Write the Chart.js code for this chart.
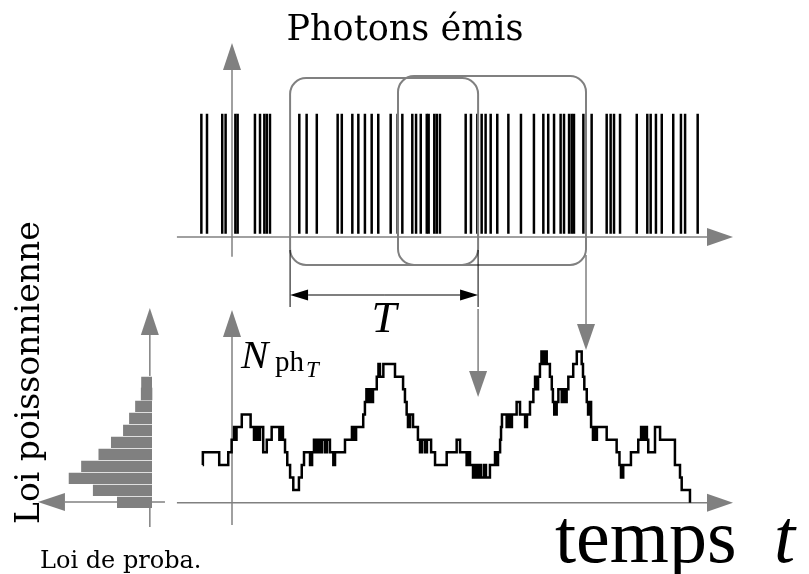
<!DOCTYPE html>
<html>
<head>
<meta charset="utf-8">
<script src="https://cdn.jsdelivr.net/npm/chart.js@4.4.1/dist/chart.umd.min.js"></script>
<style>
  html, body { margin: 0; padding: 0; background: #fff; }
  #wrap { width: 809px; height: 574px; }
</style>
</head>
<body>
<div id="wrap"><canvas id="photons" width="809" height="574"></canvas></div>
<script>
// window length (time units)
const T = 10

// arrival times of the emitted photons
const photonTimes = [-1.63, -1.33, -0.52, -0.34, 0.18, 0.30, 1.22, 1.49, 1.72, 1.85, 2.02,
    3.58, 3.97, 4.51, 5.62, 5.84, 6.40, 6.72, 7.07, 7.43, 7.78, 8.44, 8.81, 9.06, 9.59, 9.79,
    10.04, 10.36, 10.46, 10.76, 10.89, 11.06, 12.43, 12.71, 13.05, 13.28, 13.49, 13.76, 14.11,
    14.70, 15.37, 16.06, 16.56, 16.82, 17.13, 17.48, 17.66, 17.93, 18.07, 18.19, 18.69, 19.13,
    19.93, 20.14, 20.32, 20.64, 21.53, 22.09, 22.27, 22.55, 22.86, 23.47, 23.88, 24.10, 24.77]

// start of the two counting windows drawn
const windowStarts = [3.09, 8.83]

// N_ph_T : times where the count changes, and the new count
const countTimes = [-1.56, -1.55, -0.68, -0.20, -0.02, 0.11, 0.16, 0.24, 0.52, 0.99, 1.17, 1.28,
    1.38, 1.49, 1.66, 1.85, 2.11, 2.52, 2.61, 2.71, 2.82, 2.94, 3.09, 3.26, 3.56, 3.71, 3.83,
    4.15, 4.26, 4.36, 4.47, 4.57, 4.68, 4.79, 4.95, 5.05, 5.21, 5.39, 5.48, 6.01, 6.38, 6.49,
    6.60, 6.98, 7.07, 7.15, 7.23, 7.31, 7.39, 7.50, 7.70, 7.79, 7.87, 8.05, 8.67, 9.10, 9.20,
    9.29, 9.36, 9.47, 9.63, 9.89, 10.00, 10.11, 10.27, 10.37, 10.59, 10.80, 11.42, 11.95, 12.13,
    12.48, 12.55, 12.66, 12.82, 12.93, 13.03, 13.14, 13.24, 13.40, 13.51, 13.72, 13.99, 14.07,
    14.15, 14.26, 14.31, 14.36, 14.61, 14.68, 14.79, 14.89, 15.14, 15.32, 15.59, 15.69, 15.85,
    16.03, 16.12, 16.20, 16.28, 16.38, 16.46, 16.54, 16.62, 16.74, 16.91, 17.01, 17.07, 17.14,
    17.27, 17.36, 17.54, 17.62, 17.71, 17.80, 17.89, 18.15, 18.34, 18.60, 18.67, 18.74, 18.87,
    18.94, 19.02, 19.10, 19.20, 19.28, 19.36, 19.41, 19.93, 20.46, 20.61, 20.69, 20.81, 21.22,
    21.61, 21.76, 21.88, 21.99, 22.07, 22.14, 22.50, 22.77, 23.56, 23.83, 23.92, 24.36]
const countValues = [3, 4, 3, 4, 5, 6, 5, 6, 7, 6, 5, 6,
    5, 6, 4, 5, 6, 5, 6, 5, 4, 3, 2, 1, 2, 3, 4,
    3, 4, 5, 4, 5, 4, 5, 4, 5, 4, 3, 4, 5, 6, 5,
    6, 7, 8, 9, 8, 9, 8, 9, 10, 11, 10, 11, 10, 9, 8,
    7, 6, 7, 6, 5, 4, 5, 4, 5, 4, 3, 4, 5, 4,
    3, 4, 3, 2, 3, 2, 3, 2, 3, 2, 3, 4, 3,
    4, 5, 6, 7, 6, 7, 6, 7, 8, 7, 6, 7, 8,
    9, 10, 9, 10, 11, 12, 11, 12, 11, 10, 9, 8, 7,
    8, 9, 8, 9, 8, 9, 10, 11, 12, 11, 10, 9, 8,
    7, 8, 6, 5, 6, 5, 6, 5, 4, 3, 2, 3, 4,
    5, 6, 5, 6, 5, 4, 6, 5, 3, 2, 1, 0]

// histogram of the counts (probability in %)
const histCounts = [0, 1, 2, 3, 4, 5, 6, 7, 8, 9, 10]
const histProb = [8.1, 13.7, 19.3, 16.4, 12.4, 9.5, 6.7, 5.3, 3.9, 2.5, 2.5]

const W = 809
const H = 574
const gray = '#808080'

// scale range so that value 0 sits at a given pixel
const hRange = (zeroPx, k) => ({ min: -zeroPx / k, max: (W - zeroPx) / k })
const vRange = (zeroPx, k) => ({ min: -(H - zeroPx) / k, max: zeroPx / k })

const arrow = (ctx, x1, y1, x2, y2, len, half, color, lw) => {
    const a = Math.atan2(y2 - y1, x2 - x1)
    const bx = x2 - Math.cos(a) * len
    const by = y2 - Math.sin(a) * len
    ctx.strokeStyle = color
    ctx.fillStyle = color
    ctx.lineWidth = lw
    ctx.beginPath()
    ctx.moveTo(x1, y1)
    ctx.lineTo(bx, by)
    ctx.stroke()
    ctx.beginPath()
    ctx.moveTo(x2, y2)
    ctx.lineTo(bx + Math.sin(a) * half, by - Math.cos(a) * half)
    ctx.lineTo(bx - Math.sin(a) * half, by + Math.cos(a) * half)
    ctx.closePath()
    ctx.fill()
}

const roundBox = (ctx, x1, y1, x2, y2, r) => {
    ctx.beginPath()
    ctx.moveTo(x1 + r, y1)
    ctx.arcTo(x2, y1, x2, y2, r)
    ctx.arcTo(x2, y2, x1, y2, r)
    ctx.arcTo(x1, y2, x1, y1, r)
    ctx.arcTo(x1, y1, x2, y1, r)
    ctx.closePath()
    ctx.stroke()
}

const decorations = {
    id: 'decorations',
    beforeDatasetsDraw(chart) {
        const ctx = chart.ctx
        const { x, yTop, yN, xP, yH } = chart.scales
        ctx.save()
        // top axes
        arrow(ctx, x.getPixelForValue(-2.93), yTop.getPixelForValue(0), x.getPixelForValue(26.65), yTop.getPixelForValue(0), 26, 9, gray, 1.5)
        arrow(ctx, x.getPixelForValue(0), yTop.getPixelForValue(-0.16), x.getPixelForValue(0), yTop.getPixelForValue(1.565), 27, 9, gray, 1.5)
        // bottom axes
        arrow(ctx, x.getPixelForValue(-2.93), yN.getPixelForValue(0), x.getPixelForValue(26.65), yN.getPixelForValue(0), 26, 9, gray, 1.5)
        arrow(ctx, x.getPixelForValue(0), yN.getPixelForValue(-1.77), x.getPixelForValue(0), yN.getPixelForValue(15.29), 27, 9, gray, 1.5)
        // histogram axes
        arrow(ctx, xP.getPixelForValue(0.5), yH.getPixelForValue(-2.08), xP.getPixelForValue(0.5), yH.getPixelForValue(16.17), 27, 9, gray, 1.5)
        arrow(ctx, xP.getPixelForValue(-3), yH.getPixelForValue(0), xP.getPixelForValue(26.4), yH.getPixelForValue(0), 27, 9, gray, 1.5)
        ctx.restore()
    },
    afterDatasetsDraw(chart) {
        const ctx = chart.ctx
        const { x, yTop, yN } = chart.scales
        const y0 = yTop.getPixelForValue(0)
        ctx.save()

        // counting windows
        ctx.strokeStyle = gray
        ctx.lineWidth = 2
        windowStarts.forEach((s, i) => {
            roundBox(ctx, x.getPixelForValue(s), y0 - 159 - 2 * i, x.getPixelForValue(s + T), y0 + 28, 16)
        })

        // dimension line for T
        const a = x.getPixelForValue(windowStarts[0])
        const b = x.getPixelForValue(windowStarts[0] + T)
        ctx.strokeStyle = '#000'
        ctx.lineWidth = 1
        ctx.beginPath()
        ctx.moveTo(a, y0 + 13); ctx.lineTo(a, y0 + 70)
        ctx.moveTo(b, y0 + 13); ctx.lineTo(b, y0 + 70)
        ctx.stroke()
        arrow(ctx, (a + b) / 2, y0 + 58, b, y0 + 58, 18, 5.5, '#000', 1.2)
        arrow(ctx, (a + b) / 2, y0 + 58, a, y0 + 58, 18, 5.5, '#000', 1.2)
        ctx.fillStyle = '#000'
        ctx.font = 'italic 45px "Liberation Serif"'
        ctx.textAlign = 'center'
        ctx.textBaseline = 'alphabetic'
        ctx.fillText('T', (a + b) / 2, y0 + 95)

        // arrows from window ends to the count curve
        arrow(ctx, b, y0 + 72, b, y0 + 160, 26, 9, gray, 1.5)
        const c = x.getPixelForValue(windowStarts[1] + T)
        arrow(ctx, c, y0 + 18, c, y0 + 113, 26, 9, gray, 1.5)

        // labels
        ctx.fillStyle = '#000'
        ctx.textAlign = 'center'
        ctx.font = '35px "DejaVu Serif"'
        ctx.fillText('Photons émis', 405, 40)

        ctx.textAlign = 'left'
        ctx.font = '24px "DejaVu Serif"'
        ctx.fillText('Loi de proba.', 40, 568)

        ctx.save()
        ctx.translate(39, 524)
        ctx.rotate(-Math.PI / 2)
        ctx.font = '33px "DejaVu Serif"'
        ctx.fillText('Loi poissonnienne', 0, 0)
        ctx.restore()

        ctx.font = '76px "Liberation Serif"'
        ctx.fillText('temps', 555, 562)
        ctx.font = 'italic 76px "Liberation Serif"'
        ctx.fillText('t', 774, 562)

        const nx = x.getPixelForValue(0) + 9
        const ny = yN.getPixelForValue(0) - 135
        ctx.font = 'italic 41px "Liberation Serif"'
        ctx.fillText('N', nx, ny)
        ctx.font = '29px "Liberation Serif"'
        ctx.fillText('ph', nx + 34, ny + 3)
        ctx.font = 'italic 23px "Liberation Serif"'
        ctx.fillText('T', nx + 65, ny + 9)
        ctx.restore()
    }
}

new Chart(document.getElementById('photons'), {
    type: 'line',
    data: {
        datasets: [
            {
                type: 'scatter',
                data: photonTimes.map(t => ({ x: t, y: 0.51 })),
                xAxisID: 'x',
                yAxisID: 'yTop',
                pointStyle: 'line',
                pointRotation: 90,
                pointRadius: 60,
                pointBorderColor: '#000',
                pointBorderWidth: 2.5
            },
            {
                type: 'line',
                data: countTimes.map((t, i) => ({ x: t, y: countValues[i] })),
                xAxisID: 'x',
                yAxisID: 'yN',
                stepped: true,
                borderColor: '#000',
                borderWidth: 2.5,
                pointRadius: 0,
                fill: false
            },
            {
                type: 'bar',
                indexAxis: 'y',
                data: histCounts.map((n, i) => ({ x: histProb[i], y: n + 0.5 })),
                xAxisID: 'xP',
                yAxisID: 'yH',
                backgroundColor: gray,
                borderColor: '#fff',
                borderWidth: c => ({ top: c.dataIndex === 9 ? 0 : 1, right: 0, bottom: 0, left: 0 }),
                borderSkipped: false,
                barThickness: 12
            }
        ]
    },
    options: {
        responsive: false,
        animation: false,
        events: [],
        layout: { autoPadding: false, padding: 0 },
        plugins: { legend: { display: false }, tooltip: { enabled: false } },
        scales: {
            x: { type: 'linear', axis: 'x', display: false, offset: false, ...hRange(232, 18.8) },
            yTop: { type: 'linear', axis: 'y', display: false, offset: false, ...vRange(237, 124) },
            yN: { type: 'linear', axis: 'y', display: false, offset: false, ...vRange(502.7, 12.6) },
            xP: { type: 'linear', axis: 'x', display: false, offset: false, reverse: true, min: -(W - 152) / 4.32, max: 152 / 4.32 },
            yH: { type: 'linear', axis: 'y', display: false, offset: false, ...vRange(502, 12) }
        }
    },
    plugins: [decorations]
})
</script>
</body>
</html>
